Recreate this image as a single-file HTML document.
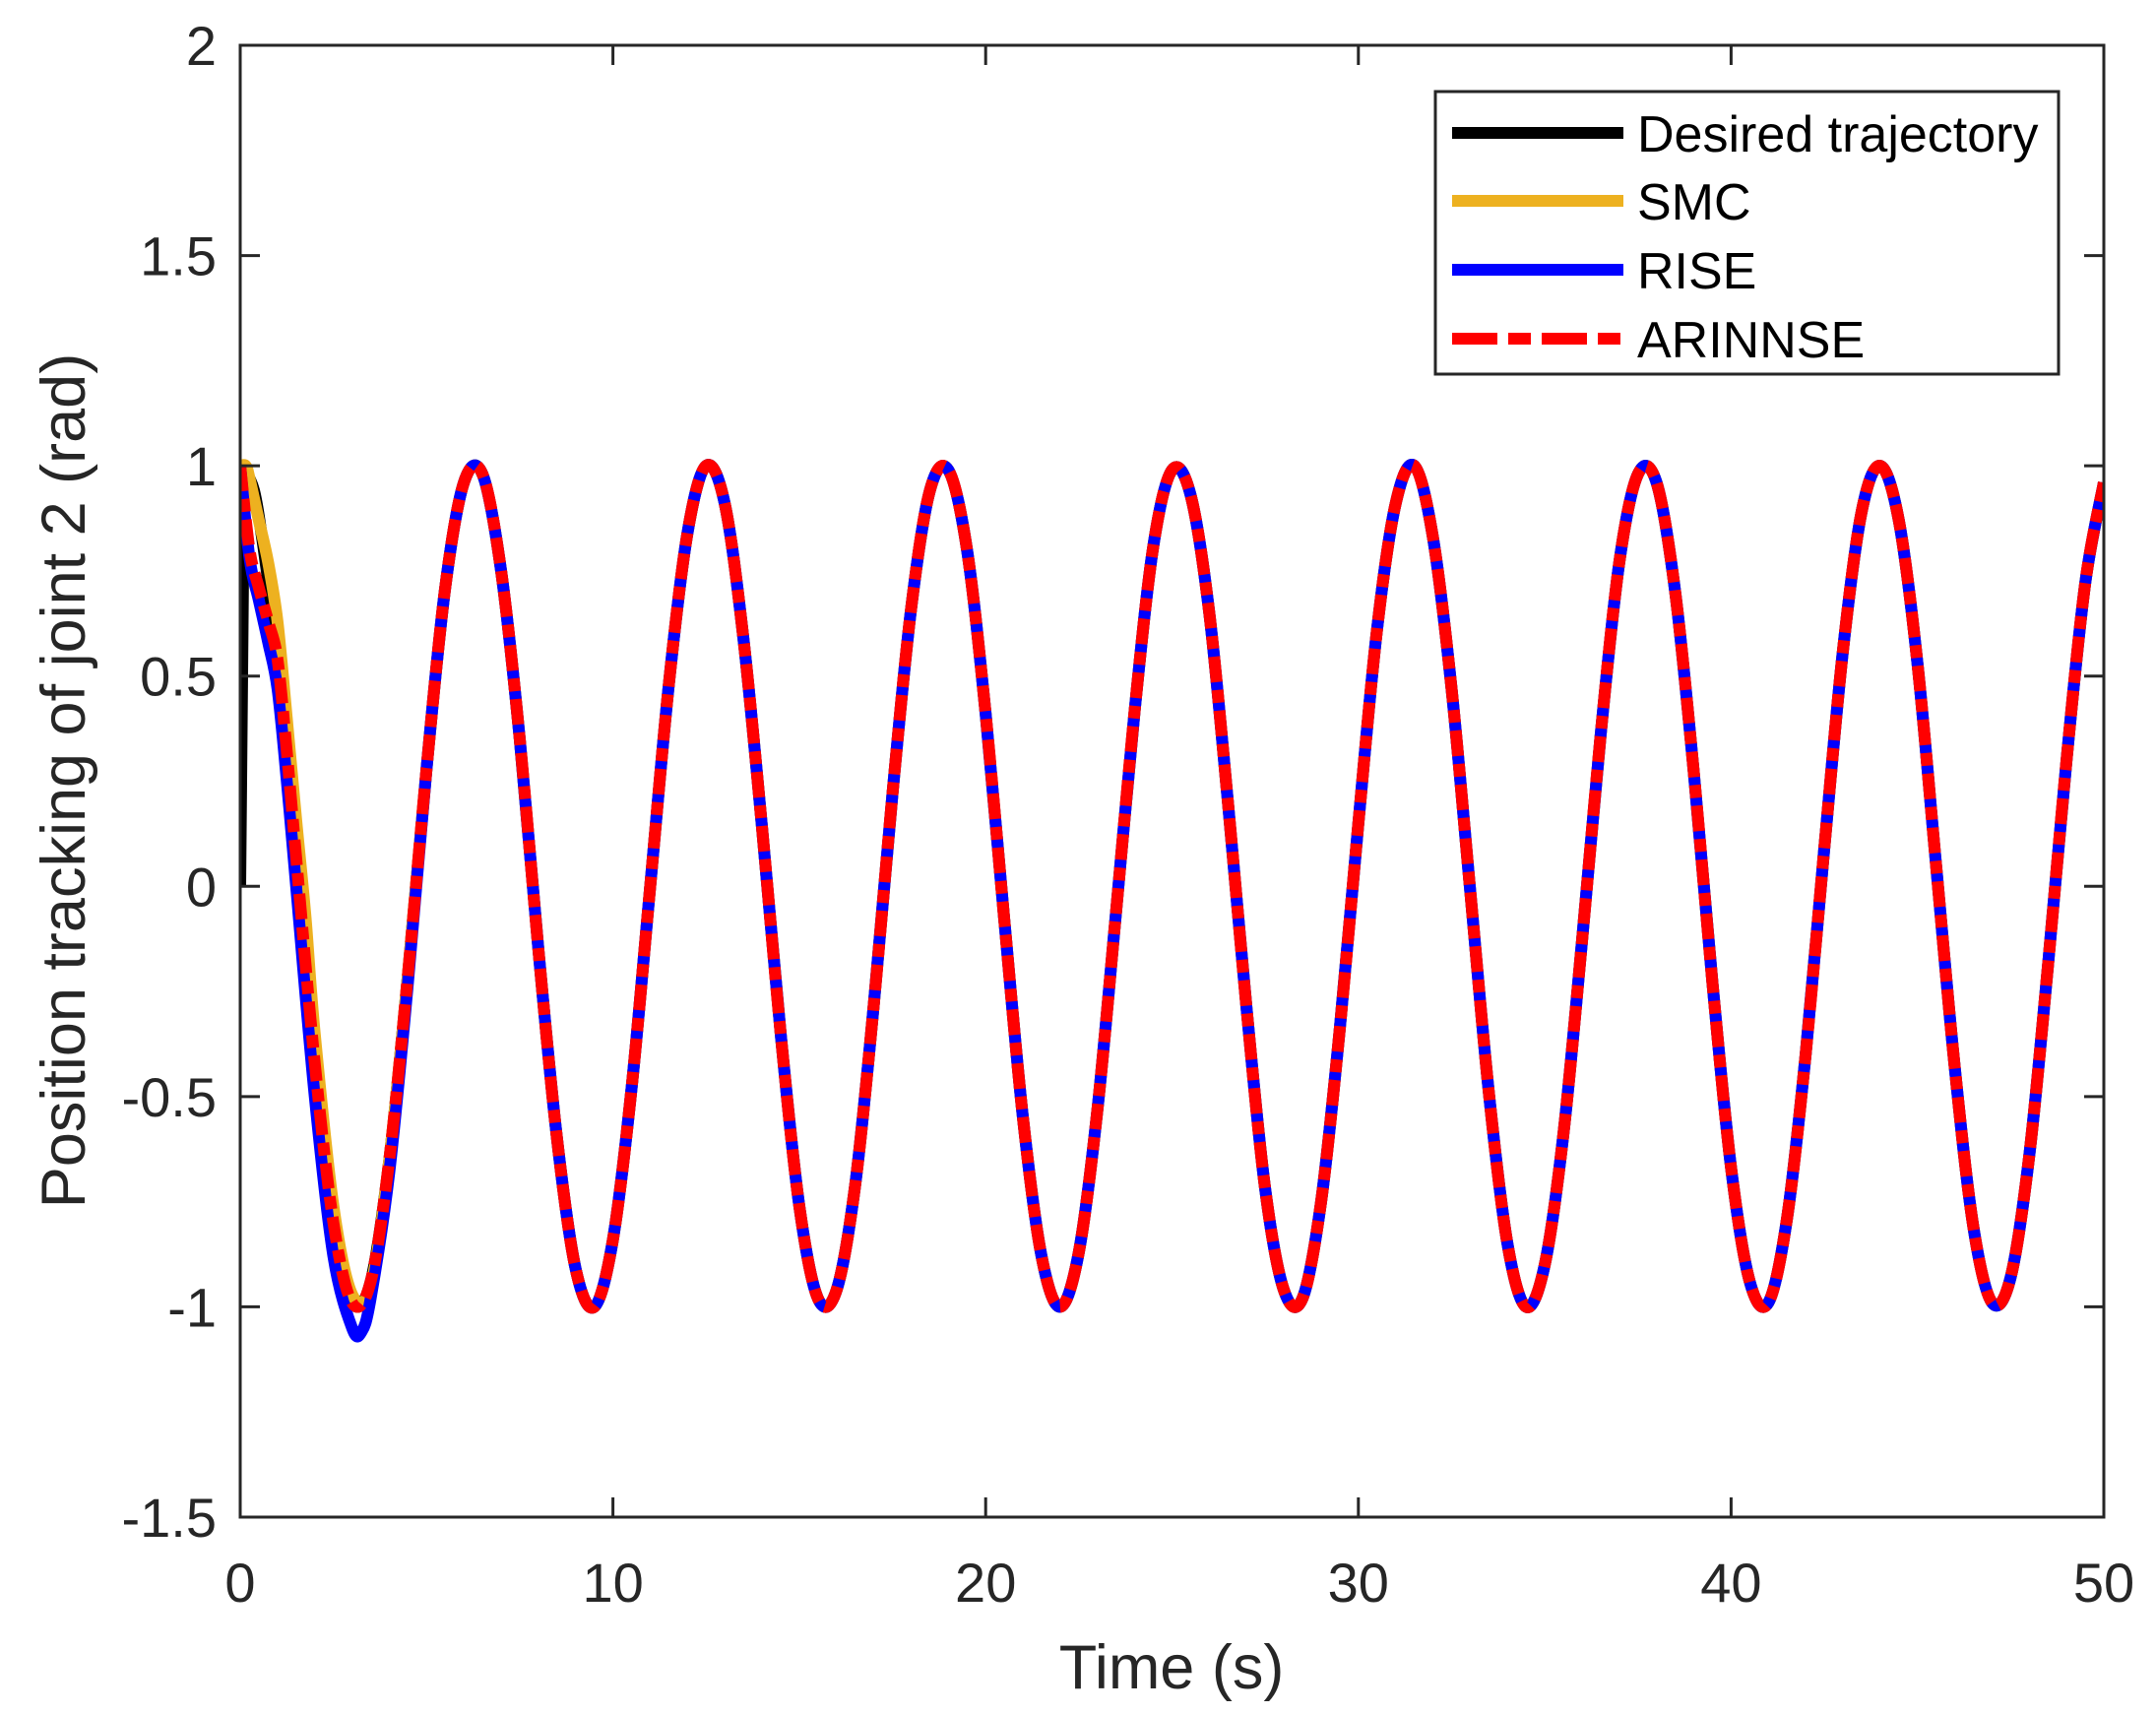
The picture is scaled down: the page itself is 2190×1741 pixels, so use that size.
<!DOCTYPE html>
<html><head><meta charset="utf-8"><style>
html,body{margin:0;padding:0;background:#fff;}
svg{display:block;font-family:"Liberation Sans",Arial,sans-serif;}
</style></head><body>
<svg id="chart" width="2190" height="1741" viewBox="0 0 2190 1741" xmlns="http://www.w3.org/2000/svg">
<rect x="0" y="0" width="2190" height="1741" fill="#fff"/>
<g id="plot"></g>
<g id="axes"></g>
<text x="1190" y="1715" font-size="63" text-anchor="middle" fill="#262626">Time (s)</text>
<text transform="translate(86,793) rotate(-90)" font-size="63" text-anchor="middle" fill="#262626">Position tracking of joint 2 (rad)</text>
<g>
<rect x="1458" y="93" width="633" height="287" fill="#fff" stroke="#262626" stroke-width="3"/>
<line x1="1475" y1="135" x2="1649" y2="135" stroke="#000" stroke-width="12"/>
<text x="1663" y="154" font-size="52" fill="#000">Desired trajectory</text>
<line x1="1475" y1="204" x2="1649" y2="204" stroke="#EDB120" stroke-width="12"/>
<text x="1663" y="223" font-size="52" fill="#000">SMC</text>
<line x1="1475" y1="274" x2="1649" y2="274" stroke="#0000FF" stroke-width="12"/>
<text x="1663" y="293" font-size="52" fill="#000">RISE</text>
<line x1="1475" y1="344" x2="1649" y2="344" stroke="#FF0000" stroke-width="12" stroke-dasharray="46 11 23 11"/>
<text x="1663" y="363" font-size="52" fill="#000">ARINNSE</text>
</g>
</svg>
<script>
const xTicks = [0,10,20,30,40,50];
const yTicks = [-1.5,-1,-0.5,0,0.5,1,1.5,2];
const xTickLabels = ["0","10","20","30","40","50"];
const yTickLabels = ["-1.5","-1","-0.5","0","0.5","1","1.5","2"];
// steady-state trajectory sampled every 0.5 s from t=0 to t=50
const mainStep = 0.5;
const mainValues = [1.00,0.88,0.54,0.07,-0.42,-0.80,-0.99,-0.94,-0.65,-0.21,0.28,0.71,0.96,0.98,0.75,0.35,-0.15,-0.60,-0.91,-1.00,-0.84,-0.48,0.00,0.48,0.84,1.00,0.91,0.59,0.14,-0.35,-0.76,-0.98,-0.96,-0.71,-0.28,0.22,0.66,0.94,0.99,0.80,0.41,-0.08,-0.55,-0.88,-1.00,-0.87,-0.53,-0.06,0.42,0.81,0.99,0.93,0.65,0.20,-0.29,-0.72,-0.96,-0.98,-0.75,-0.34,0.15,0.61,0.91,1.00,0.83,0.47,-0.01,-0.49,-0.85,-1.00,-0.90,-0.59,-0.13,0.36,0.77,0.98,0.96,0.70,0.27,-0.23,-0.67,-0.94,-0.99,-0.79,-0.40,0.09,0.56,0.89,1.00,0.87,0.53,0.05,-0.43,-0.81,-0.99,-0.93,-0.64,-0.19,0.30,0.72,0.96];
// initial transients (t < 5 s)
const desiredT = [0,0.1,0.25,0.5,1,1.5,2,2.5,3,3.5,4,4.5];
const desiredV = [0,0.96,0.97,0.88,0.54,0.07,-0.42,-0.80,-0.99,-0.94,-0.65,-0.21];
const smcT = [0,0.15,0.25,0.5,0.75,1,1.25,1.5,1.75,2,2.5,3,3.5,4,4.5];
const smcV = [1.0,1.0,0.97,0.87,0.77,0.63,0.40,0.16,-0.07,-0.35,-0.76,-0.97,-0.95,-0.65,-0.21];
const riseT = [0,0.25,0.5,0.75,1,1.25,1.5,2,2.5,3,3.25,3.5,4,4.5];
const riseV = [1.0,0.78,0.68,0.58,0.47,0.25,0.0,-0.50,-0.88,-1.05,-1.06,-0.98,-0.68,-0.23];
const arinnseT = [0,0.25,0.5,0.75,1,1.25,1.5,2,2.5,3,3.5,4,4.5];
const arinnseV = [1.0,0.80,0.71,0.63,0.54,0.32,0.07,-0.42,-0.80,-0.99,-0.94,-0.65,-0.21];

const L=244,R=2137,T=46,B=1541,xMin=0,xMax=50,yMin=-1.5,yMax=2;
function X(t){return L+(t-xMin)/(xMax-xMin)*(R-L);}
function Y(v){return B-(v-yMin)/(yMax-yMin)*(B-T);}
const NS='http://www.w3.org/2000/svg';
function mk(tag,attrs,parent){const e=document.createElementNS(NS,tag);for(const k in attrs)e.setAttribute(k,attrs[k]);parent.appendChild(e);return e;}
function seriesPoints(ts,vs){
  const pts=[];for(let i=0;i<ts.length;i++)pts.push([X(ts[i]),Y(vs[i])]);
  const last=ts[ts.length-1];
  for(let i=0;i<mainValues.length;i++){const t=i*mainStep;if(t>last+1e-9)pts.push([X(t),Y(mainValues[i])]);}
  return pts;
}
function pathD(p,linearFirst){
  let d='M'+p[0][0].toFixed(2)+','+p[0][1].toFixed(2);
  for(let i=0;i<p.length-1;i++){
    if(i<linearFirst){d+='L'+p[i+1][0].toFixed(2)+','+p[i+1][1].toFixed(2);continue;}
    const p0=p[Math.max(i<=linearFirst?i:0,i-1)],p1=p[i],p2=p[i+1],p3=p[Math.min(p.length-1,i+2)];
    const c1=[p1[0]+(p2[0]-p0[0])/6,p1[1]+(p2[1]-p0[1])/6];
    const c2=[p2[0]-(p3[0]-p1[0])/6,p2[1]-(p3[1]-p1[1])/6];
    d+='C'+c1[0].toFixed(2)+','+c1[1].toFixed(2)+' '+c2[0].toFixed(2)+','+c2[1].toFixed(2)+' '+p2[0].toFixed(2)+','+p2[1].toFixed(2);
  }
  return d;
}
const plot=document.getElementById('plot');
const clip=mk('clipPath',{id:'clip'},plot);
mk('rect',{x:L,y:T,width:R-L,height:B-T},clip);
const g=mk('g',{'clip-path':'url(#clip)'},plot);
const sDes=mk('path',{d:pathD(seriesPoints(desiredT,desiredV),1),fill:'none',stroke:'#000','stroke-width':12,'stroke-linejoin':'round'},g);


const sSmc=mk('path',{d:pathD(seriesPoints(smcT,smcV),0),fill:'none',stroke:'#EDB120','stroke-width':12,'stroke-linejoin':'round'},g);


const sRise=mk('path',{d:pathD(seriesPoints(riseT,riseV),0),fill:'none',stroke:'#0000FF','stroke-width':12,'stroke-linejoin':'round'},g);


const sAr=mk('path',{d:pathD(seriesPoints(arinnseT,arinnseV),0),fill:'none',stroke:'#FF0000','stroke-width':12,'stroke-dasharray':'26 8 13 8'},g);



const ax=document.getElementById('axes');
const frame=mk('rect',{x:L,y:T,width:R-L,height:B-T,fill:'none',stroke:'#262626','stroke-width':3},ax);


xTicks.forEach((t,i)=>{
  const x=X(t);
  const a=mk('line',{x1:x,y1:B,x2:x,y2:B-20,stroke:'#262626','stroke-width':3},ax);
  
  
  const b=mk('line',{x1:x,y1:T,x2:x,y2:T+20,stroke:'#262626','stroke-width':3},ax);
  
  
  const tx=mk('text',{x:x,y:1627,'font-size':56,'text-anchor':'middle',fill:'#262626'},ax);
  tx.textContent=xTickLabels[i];
  
  
});
yTicks.forEach((v,i)=>{
  const y=Y(v);
  const a=mk('line',{x1:L,y1:y,x2:L+20,y2:y,stroke:'#262626','stroke-width':3},ax);
  
  
  const b=mk('line',{x1:R,y1:y,x2:R-20,y2:y,stroke:'#262626','stroke-width':3},ax);
  
  
  const tx=mk('text',{x:220,y:y+20,'font-size':56,'text-anchor':'end',fill:'#262626'},ax);
  tx.textContent=yTickLabels[i];
  
  
});
</script>
</body></html>
